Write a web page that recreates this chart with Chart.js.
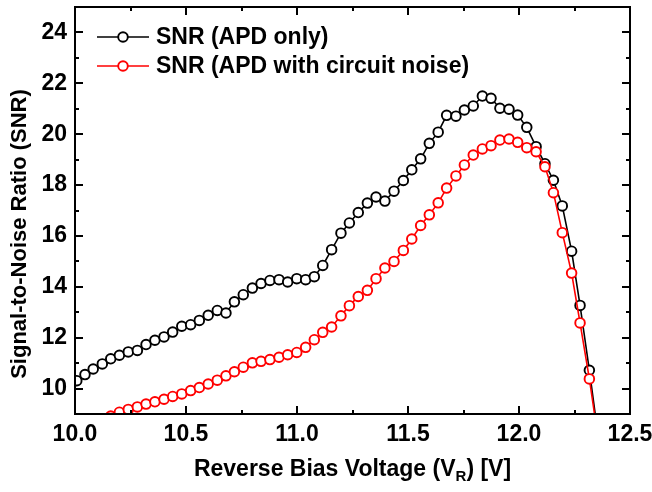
<!DOCTYPE html>
<html>
<head>
<meta charset="utf-8">
<script src="https://cdn.jsdelivr.net/npm/chart.js@4/dist/chart.umd.min.js"></script>
<style>
html,body{margin:0;padding:0;background:#fff;}
#wrap{width:652px;height:492px;position:relative;}
</style>
</head>
<body>
<div id="wrap"><canvas id="c" width="652" height="492"></canvas></div>
<script>
// ---- data ----
const voltage = [10.008,10.045,10.082,10.123,10.161,10.200,10.240,10.281,10.320,10.360,
  10.401,10.440,10.481,10.521,10.560,10.600,10.641,10.680,10.718,10.758,
  10.799,10.838,10.878,10.919,10.958,10.999,11.039,11.078,11.116,11.156,
  11.198,11.236,11.276,11.317,11.356,11.396,11.437,11.479,11.517,11.557,
  11.596,11.636,11.674,11.716,11.754,11.794,11.835,11.874,11.914,11.955,
  11.994,12.035,12.077,12.117,12.155,12.195,12.237,12.275,12.317,12.357];

const snrApdOnly = [10.31,10.55,10.77,10.97,11.17,11.31,11.44,11.50,11.73,11.90,
  12.03,12.22,12.45,12.51,12.68,12.88,13.07,12.97,13.41,13.69,
  13.95,14.13,14.25,14.28,14.19,14.32,14.28,14.40,14.84,15.46,
  16.11,16.51,16.92,17.29,17.53,17.37,17.76,18.18,18.60,19.03,
  19.64,20.08,20.74,20.71,20.95,21.11,21.50,21.41,21.02,20.98,
  20.75,20.27,19.51,18.84,18.19,17.18,15.40,13.27,10.72,8.10];

const snrWithCircuit = [8.45,8.57,8.69,8.80,8.92,9.07,9.18,9.28,9.39,9.48,
  9.58,9.69,9.79,9.92,10.04,10.18,10.33,10.50,10.66,10.84,
  11.01,11.07,11.14,11.23,11.33,11.42,11.62,11.92,12.21,12.42,
  12.86,13.26,13.62,13.86,14.32,14.74,15.00,15.43,15.88,16.41,
  16.83,17.30,17.88,18.36,18.79,19.18,19.42,19.55,19.77,19.81,
  19.68,19.47,19.31,18.72,17.70,16.13,14.54,12.58,10.38,8.00];

const xTickValues = [10.0, 10.5, 11.0, 11.5, 12.0, 12.5];
const yTickValues = [10, 12, 14, 16, 18, 20, 22, 24];
const seriesNames = ["SNR (APD only)", "SNR (APD with circuit noise)"];
const seriesColors = ["#000000", "#ff0000"];
const xTitleParts = ["Reverse Bias Voltage (V", "R", ") [V]"];
const yTitle = "Signal-to-Noise Ratio (SNR)";

// ---- drawing ----
const FONT = '"Liberation Sans", Arial, Helvetica, sans-serif';

function toPoints(xs, ys){ return xs.map((v,i)=>({x:v, y:ys[i]})); }

const framePlugin = {
  id: 'frame',
  afterDatasetsDraw(chart){
    const {ctx, chartArea:a, scales:{x, y}} = chart;
    ctx.save();
    ctx.strokeStyle = '#000';
    ctx.lineWidth = 2;
    ctx.lineCap = 'butt';
    const majorLen = 8, minorLen = 4;
    ctx.beginPath();
    const xMinor = [];
    for (let i=0;i<xTickValues.length-1;i++) xMinor.push((xTickValues[i]+xTickValues[i+1])/2);
    xTickValues.forEach(v=>{
      const px = Math.round(x.getPixelForValue(v));
      ctx.moveTo(px, a.bottom); ctx.lineTo(px, a.bottom-majorLen);
      ctx.moveTo(px, a.top); ctx.lineTo(px, a.top+majorLen);
    });
    xMinor.forEach(v=>{
      const px = Math.round(x.getPixelForValue(v));
      ctx.moveTo(px, a.bottom); ctx.lineTo(px, a.bottom-minorLen);
      ctx.moveTo(px, a.top); ctx.lineTo(px, a.top+minorLen);
    });
    const yMinor = [];
    for (let i=0;i<yTickValues.length-1;i++) yMinor.push((yTickValues[i]+yTickValues[i+1])/2);
    yTickValues.forEach(v=>{
      const py = Math.round(y.getPixelForValue(v));
      ctx.moveTo(a.left, py); ctx.lineTo(a.left+majorLen, py);
      ctx.moveTo(a.right, py); ctx.lineTo(a.right-majorLen, py);
    });
    yMinor.forEach(v=>{
      const py = Math.round(y.getPixelForValue(v));
      ctx.moveTo(a.left, py); ctx.lineTo(a.left+minorLen, py);
      ctx.moveTo(a.right, py); ctx.lineTo(a.right-minorLen, py);
    });
    ctx.stroke();
    ctx.strokeRect(a.left, a.top, a.right-a.left, a.bottom-a.top);

    // legend (inside, top-left)
    const rows = [37, 66];
    seriesNames.forEach((name, i)=>{
      const yy = rows[i];
      ctx.strokeStyle = seriesColors[i];
      ctx.lineWidth = 1.6;
      ctx.beginPath(); ctx.moveTo(97, yy); ctx.lineTo(149, yy); ctx.stroke();
      ctx.lineWidth = 1.9;
      ctx.beginPath(); ctx.arc(123, yy, 4.8, 0, Math.PI*2);
      ctx.fillStyle = '#fff'; ctx.fill(); ctx.stroke();
      ctx.fillStyle = '#000';
      ctx.font = 'bold 23px ' + FONT;
      ctx.textAlign = 'left'; ctx.textBaseline = 'middle';
      ctx.fillText(name, 156, yy+1);
    });

    // x axis title with subscript
    ctx.fillStyle = '#000';
    ctx.textBaseline = 'alphabetic';
    ctx.textAlign = 'left';
    const big = 'bold 23px ' + FONT, small = 'bold 15px ' + FONT;
    ctx.font = big; const w0 = ctx.measureText(xTitleParts[0]).width;
    ctx.font = small; const w1 = ctx.measureText(xTitleParts[1]).width;
    ctx.font = big; const w2 = ctx.measureText(xTitleParts[2]).width;
    const cx = (a.left + a.right)/2;
    let sx = cx - (w0+w1+w2)/2;
    const base = 476;
    ctx.font = big; ctx.fillText(xTitleParts[0], sx, base); sx += w0;
    ctx.font = small; ctx.fillText(xTitleParts[1], sx, base+5); sx += w1;
    ctx.font = big; ctx.fillText(xTitleParts[2], sx, base);

    // y axis title
    ctx.save();
    ctx.translate(20, 234);
    ctx.rotate(-Math.PI/2);
    ctx.font = 'bold 22px ' + FONT;
    ctx.textAlign = 'center'; ctx.textBaseline = 'middle';
    ctx.fillText(yTitle, 0, 0);
    ctx.restore();
    ctx.restore();
  }
};

const ctx = document.getElementById('c').getContext('2d');
new Chart(ctx, {
  type: 'line',
  data: {
    datasets: [
      {
        label: seriesNames[0],
        data: toPoints(voltage, snrApdOnly),
        borderColor: seriesColors[0],
        backgroundColor: '#fff',
        pointBackgroundColor: '#fff',
        pointBorderColor: seriesColors[0],
        borderWidth: 1.6,
        pointRadius: 4.8,
        pointBorderWidth: 1.9,
        tension: 0,
        clip: 0,
        order: 2
      },
      {
        label: seriesNames[1],
        data: toPoints(voltage, snrWithCircuit),
        borderColor: seriesColors[1],
        backgroundColor: '#fff',
        pointBackgroundColor: '#fff',
        pointBorderColor: seriesColors[1],
        borderWidth: 1.6,
        pointRadius: 4.8,
        pointBorderWidth: 1.9,
        tension: 0,
        clip: 0,
        order: 1
      }
    ]
  },
  options: {
    responsive: false,
    animation: false,
    devicePixelRatio: 1,
    layout: { padding: { left: 0, top: 7, right: 22, bottom: 0 } },
    plugins: { legend: { display: false }, tooltip: { enabled: false } },
    scales: {
      x: {
        type: 'linear',
        min: 10, max: 12.5,
        afterBuildTicks: s => { s.ticks = xTickValues.map(v => ({value: v})); },
        afterFit: s => { s.height = 78; s.paddingLeft = 0; s.paddingRight = 0; },
        grid: { display: false, drawTicks: false },
        border: { display: false },
        ticks: {
          autoSkip: false, maxRotation: 0, padding: 7,
          color: '#000',
          font: { family: FONT, size: 23, weight: 'bold' },
          callback: v => Number(v).toFixed(1)
        },
        title: { display: false }
      },
      y: {
        type: 'linear',
        min: 9, max: 25,
        afterBuildTicks: s => { s.ticks = yTickValues.map(v => ({value: v})); },
        afterFit: s => { s.width = 75; s.paddingTop = 0; s.paddingBottom = 0; },
        grid: { display: false, drawTicks: false },
        border: { display: false },
        ticks: {
          autoSkip: false, padding: 8,
          color: '#000',
          font: { family: FONT, size: 23, weight: 'bold' },
          callback: v => String(v)
        },
        title: { display: false }
      }
    }
  },
  plugins: [framePlugin]
});
</script>
</body>
</html>
